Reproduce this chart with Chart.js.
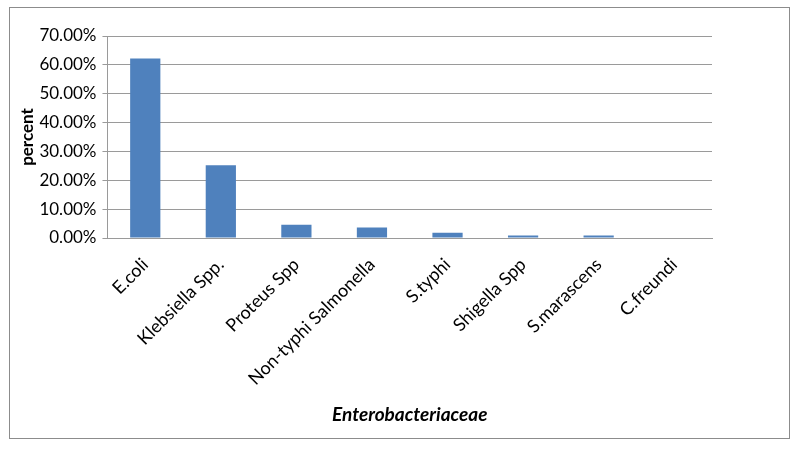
<!DOCTYPE html>
<html>
<head>
<meta charset="utf-8">
<script src="https://cdn.jsdelivr.net/npm/chart.js@4/dist/chart.umd.min.js"></script>
<style>
  body { margin: 0; background: #fff; }
  #frame {
    position: absolute; left: 9px; top: 7px;
    width: 781px; height: 432px;
    border: 1px solid #8c8c8c; box-sizing: border-box;
  }
  #chart { display: block; }
</style>
</head>
<body>
<div id="frame"><canvas id="chart" width="779" height="430"></canvas></div>
<script>
'use strict';

const categories = ['E.coli', 'Klebsiella Spp.', 'Proteus Spp', 'Non-typhi Salmonella',
  'S.typhi', 'Shigella Spp', 'S.marascens', 'C.freundi'];
const percents = [62.2, 25.2, 4.6, 3.6, 1.8, 0.9, 0.9, 0];
const yTicks = [0, 10, 20, 30, 40, 50, 60, 70];

const ctx = document.getElementById('chart');
new Chart(ctx, {
  type: 'bar',
  data: {
    labels: categories,
    datasets: [{
      label: 'percent',
      data: percents,
      backgroundColor: '#4f81bd',
      barPercentage: 0.4,
      categoryPercentage: 1
    }]
  },
  options: {
    responsive: false,
    animation: false,
    layout: { padding: { top: 28, right: 77, left: 3, bottom: 8 } },
    plugins: { legend: { display: false }, tooltip: { enabled: false } },
    scales: {
      x: {
        grid: { display: false },
        border: { display: true, color: '#9a9a9a' },
        afterFit: axis => { axis.height = 192; },
        ticks: {
          color: '#000',
          font: { family: 'Lato', size: 18 },
          maxRotation: 45, minRotation: 45,
          padding: 8,
          autoSkip: false
        },
        title: {
          display: true,
          text: 'Enterobacteriaceae',
          color: '#000',
          font: { family: 'Lato', size: 19, weight: 'bold', style: 'italic' },
          padding: { top: 4, bottom: 4 }
        }
      },
      y: {
        min: 0, max: 70,
        afterBuildTicks: axis => { axis.ticks = yTicks.map(v => ({ value: v })); },
        grid: { color: '#9a9a9a', tickLength: 5 },
        border: { display: true, color: '#9a9a9a' },
        ticks: {
          color: '#000',
          font: { family: 'Lato', size: 17 },
          padding: 6,
          callback: v => v.toFixed(2) + '%'
        },
        title: {
          display: true,
          text: 'percent',
          color: '#000',
          font: { family: 'Lato', size: 17, weight: 'bold' },
          padding: { bottom: -4 }
        }
      }
    }
  }
});
</script>
</body>
</html>
